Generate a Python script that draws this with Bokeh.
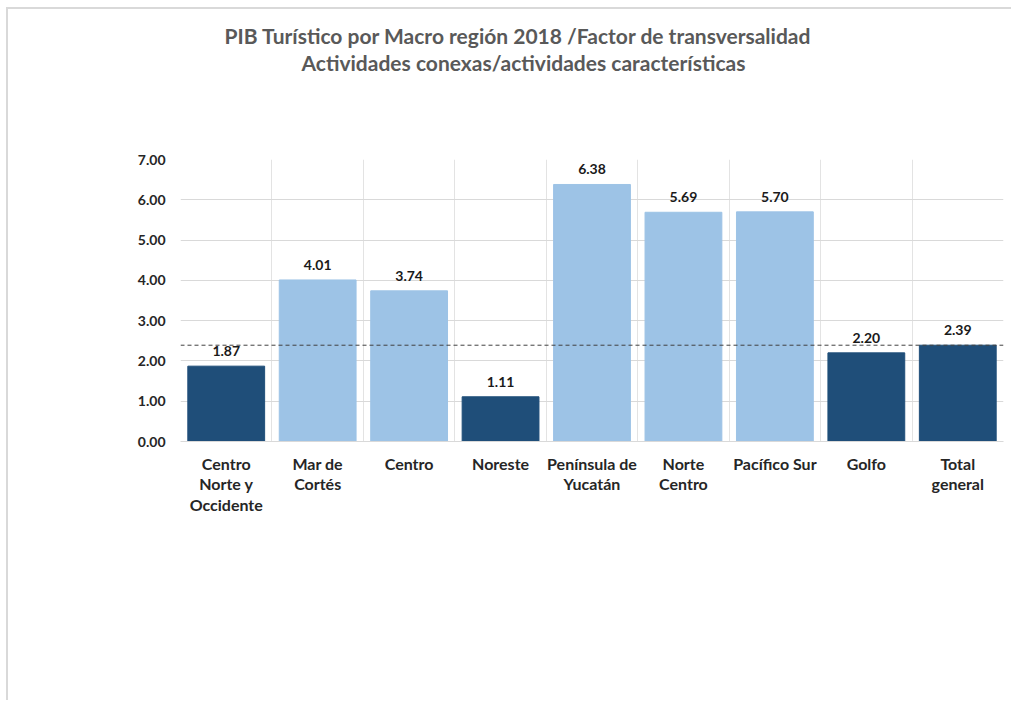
from bokeh.plotting import figure
from bokeh.models import (ColumnDataSource, FixedTicker, NumeralTickFormatter, Span,
                          LabelSet, Title, Range1d)
from bokeh.core.properties import value
from bokeh.embed import file_html
from bokeh.resources import INLINE

categories = ["Centro\nNorte y\nOccidente", "Mar de\nCortés", "Centro", "Noreste",
              "Península de\nYucatán", "Norte\nCentro", "Pacífico Sur", "Golfo", "Total\ngeneral"]
values = [1.87, 4.01, 3.74, 1.11, 6.38, 5.69, 5.70, 2.20, 2.39]
bar_groups = ["dark", "light", "light", "dark", "light", "light", "light", "dark", "dark"]
reference_value = 2.39
title_lines = ["PIB Turístico por Macro región 2018 /Factor de transversalidad",
               "Actividades conexas/actividades características"]
y_ticks = [0, 1, 2, 3, 4, 5, 6, 7]

palette = {"dark": "#1F4E79", "light": "#9DC3E6"}
FONT = "Lato"

xs = list(range(len(categories)))
src = ColumnDataSource(dict(
    x=xs, top=values,
    color=[palette[g] for g in bar_groups],
    label=["%.2f" % v for v in values],
))

W, H = 1005, 693
ML, MR, MT, MB = 172, 10, 150, 261
p = figure(width=W, height=H, output_backend="svg", toolbar_location=None, title=None,
           x_range=Range1d(-0.5, len(categories) - 0.5), y_range=Range1d(0, 7),
           min_border_left=ML, min_border_right=MR, min_border_top=MT, min_border_bottom=MB)
p.styles = {"margin-left": "6px", "margin-top": "7px",
            "border-top": "2px solid #d9d9d9", "border-left": "2px solid #d9d9d9"}
p.outline_line_color = None
p.background_fill_color = "white"
p.border_fill_color = "white"

p.vbar(x="x", top="top", width=0.84, color="color", source=src)

p.add_layout(Span(location=reference_value, dimension="width", line_color="#404040",
                  line_dash="4 3", line_width=1))

p.add_layout(LabelSet(x="x", y="top", text="label", source=src, text_align="center",
                      text_baseline="bottom", y_offset=10, text_font=value(FONT),
                      text_font_style="bold", text_font_size="14px", text_color="#1a1a1a"))

# axes
p.yaxis.ticker = FixedTicker(ticks=y_ticks)
p.yaxis.formatter = NumeralTickFormatter(format="0.00")
p.yaxis.axis_line_color = None
p.yaxis.major_tick_line_color = None
p.yaxis.minor_tick_line_color = None
p.yaxis.major_label_text_font = FONT
p.yaxis.major_label_text_font_style = "bold"
p.yaxis.major_label_text_font_size = "14px"
p.yaxis.major_label_text_color = "#262626"
p.yaxis.major_label_standoff = 9

p.xaxis.ticker = FixedTicker(ticks=xs)
p.xaxis.major_label_overrides = {i: c for i, c in zip(xs, categories)}
p.xaxis.axis_line_color = "#d9d9d9"
p.xaxis.major_tick_line_color = None
p.xaxis.minor_tick_line_color = None
p.xaxis.major_label_text_font = FONT
p.xaxis.major_label_text_font_style = "bold"
p.xaxis.major_label_text_font_size = "16px"
p.xaxis.major_label_text_color = "#262626"
p.xaxis.major_label_standoff = 6
p.xaxis.major_label_text_line_height = 1.08

p.ygrid.ticker = FixedTicker(ticks=y_ticks)
p.ygrid.grid_line_color = "#d9d9d9"
p.xgrid.ticker = FixedTicker(ticks=[i - 0.5 for i in range(len(categories) + 1)])
p.xgrid.grid_line_color = "#e3e3e3"

# two-line title above the frame: spacer nearest the frame, then line 2, then line 1
p.add_layout(Title(text=" ", standoff=59, text_font=FONT, text_font_size="20px"), "above")
for t, off in [(title_lines[1], 121), (title_lines[0], 44)]:
    p.add_layout(Title(text=t, align="left", offset=off, standoff=0,
                       text_font=FONT, text_font_style="bold", text_font_size="21px",
                       text_color="#595959"), "above")

open("out.html", "w").write(file_html(p, INLINE))
